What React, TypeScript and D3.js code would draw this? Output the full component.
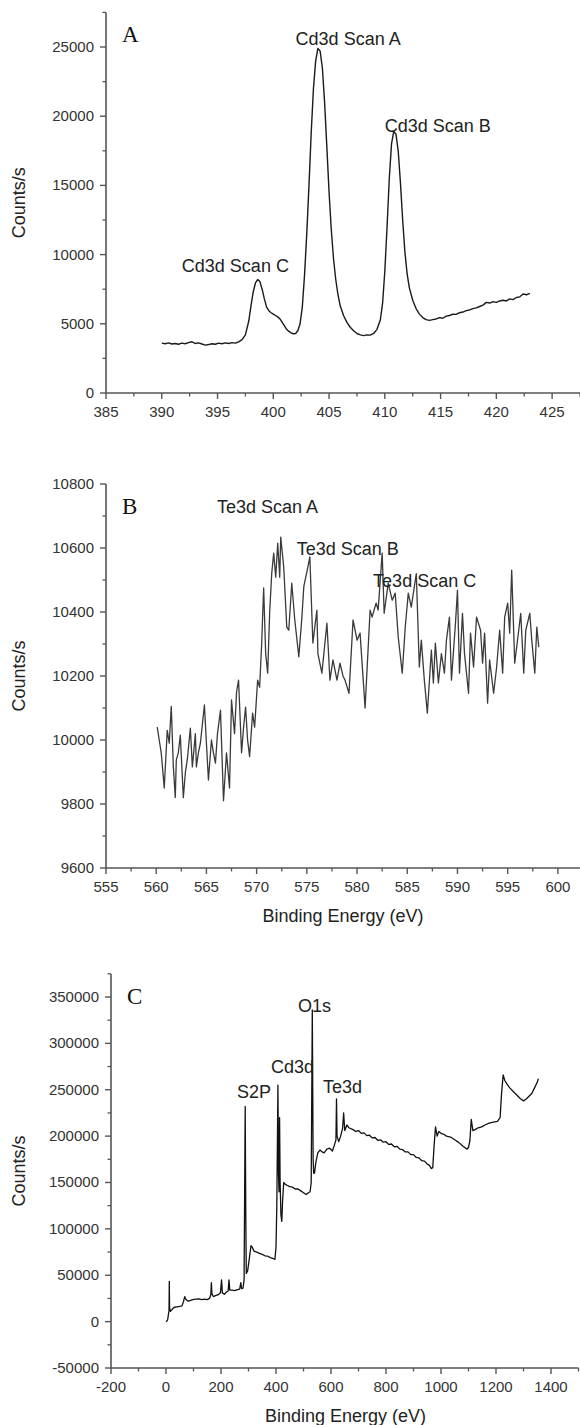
import React from "react";
import * as d3 from "d3";

// ---------- Panel A: Cd3d ----------
const cdEnergy = [
  390.0, 390.3, 390.6, 390.9, 391.2, 391.5, 391.8, 392.1, 392.4, 392.7, 393.0, 393.3, 393.6, 393.9, 394.2, 394.5, 394.8,
  395.1, 395.4, 395.7, 396.0, 396.3, 396.6, 396.9, 397.2, 397.5, 397.8, 398.0, 398.2, 398.4, 398.6, 398.8, 399.0, 399.2,
  399.4, 399.6, 399.8, 400.0, 400.2, 400.4, 400.6, 400.8, 401.0, 401.2, 401.4, 401.6, 401.8, 402.0, 402.2, 402.4, 402.6,
  402.8, 403.0, 403.2, 403.4, 403.6, 403.8, 404.0, 404.2, 404.4, 404.6, 404.8, 405.0, 405.2, 405.4, 405.6, 405.8, 406.0,
  406.3, 406.6, 406.9, 407.2, 407.5, 407.8, 408.1, 408.4, 408.7, 409.0, 409.3, 409.6, 409.8, 410.0, 410.2, 410.4, 410.6,
  410.8, 411.0, 411.2, 411.4, 411.6, 411.8, 412.0, 412.2, 412.5, 412.8, 413.1, 413.4, 413.7, 414.0, 414.3, 414.6, 414.9,
  415.2, 415.5, 415.8, 416.1, 416.4, 416.7, 417.0, 417.3, 417.6, 417.9, 418.2, 418.5, 418.8, 419.1, 419.4, 419.7, 420.0,
  420.3, 420.6, 420.9, 421.2, 421.5, 421.8, 422.1, 422.4, 422.7, 423.0,
];
const cdCounts = [
  3600, 3560, 3620, 3540, 3580, 3520, 3600, 3560, 3640, 3700, 3580, 3620, 3540, 3460, 3500, 3560, 3520,
  3600, 3560, 3620, 3580, 3640, 3600, 3700, 3850, 4200, 5200, 6300, 7300, 7950, 8200, 8050, 7500, 6800,
  6200, 5950, 5800, 5700, 5600, 5500, 5350, 5100, 4850, 4600, 4450, 4350, 4280, 4300, 4500, 5000, 6200,
  8500, 11500, 15000, 18800, 22000, 24000, 24900, 24700, 23500, 21000, 17800, 14500, 11800, 9700, 8200, 7100, 6300,
  5600, 5100, 4750, 4500, 4300, 4200, 4150, 4200, 4180, 4300, 4600, 5300, 6500, 8800, 12000, 15500, 18000,
  18900, 18700, 17500, 15200, 12500, 10200, 8600, 7600, 6700, 6100, 5700, 5450, 5300, 5250, 5300, 5350, 5450,
  5400, 5550, 5600, 5700, 5680, 5800, 5850, 5950, 6000, 6100, 6150, 6250, 6350, 6550, 6500, 6600, 6550,
  6650, 6700, 6650, 6800, 6750, 6900, 6950, 7150, 7100, 7200,
];
const cdXTicks = [385, 390, 395, 400, 405, 410, 415, 420, 425];
const cdYTicks = [0, 5000, 10000, 15000, 20000, 25000];
const cdLabels = ["Cd3d Scan A", "Cd3d Scan B", "Cd3d Scan C"];
const cdLabelX = [402.0, 410.0, 391.8];
const cdLabelY = [25150, 18860, 8740];

// ---------- Panel B: Te3d ----------
const teEnergy = [
  560.1, 560.3, 560.5, 560.8, 561.1, 561.3, 561.5, 561.7, 561.9, 562.0, 562.2, 562.4, 562.7, 562.9, 563.1, 563.4, 563.6,
  563.9, 564.0, 564.2, 564.4, 564.8, 565.0, 565.2, 565.5, 565.7, 565.9, 566.1, 566.4, 566.7, 567.0, 567.3, 567.5, 567.8,
  568.0, 568.2, 568.5, 568.7, 568.9, 569.1, 569.3, 569.6, 569.8, 570.1, 570.3, 570.5, 570.7, 570.9, 571.1, 571.3, 571.5,
  571.7, 571.9, 572.1, 572.3, 572.4, 572.7, 573.0, 573.2, 573.5, 573.8, 574.2, 574.5, 574.7, 575.1, 575.3, 575.6, 576.0,
  576.1, 576.5, 577.0, 577.3, 577.6, 578.0, 578.3, 578.6, 578.8, 579.2, 579.6, 580.0, 580.3, 580.8, 581.3, 581.5, 581.9,
  582.1, 582.5, 582.7, 583.1, 583.5, 583.8, 584.1, 584.5, 584.8, 585.1, 585.4, 585.9, 586.2, 586.4, 586.7, 587.0, 587.4,
  587.6, 587.8, 588.1, 588.4, 588.7, 588.9, 589.2, 589.4, 589.8, 590.0, 590.2, 590.5, 590.7, 591.1, 591.3, 591.6, 591.9,
  592.3, 592.5, 592.7, 593.0, 593.2, 593.6, 593.9, 594.2, 594.5, 594.7, 595.0, 595.2, 595.4, 595.7, 596.1, 596.3, 596.6,
  596.8, 597.2, 597.4, 597.7, 597.9, 598.1,
];
const teCounts = [
  10040, 10000, 9960, 9850, 10030, 9990, 10105, 9920, 9820, 9937, 9960, 10015, 9820, 9897, 9940, 10037, 9916,
  10020, 9916, 9960, 9990, 10110, 9990, 9875, 10000, 9960, 9928, 10020, 10093, 9810, 9960, 9850, 10125, 10020,
  10150, 10187, 9960, 10040, 10103, 10000, 9948, 10084, 10040, 10187, 10165, 10300, 10475, 10270, 10209, 10400, 10520,
  10584, 10509, 10615, 10509, 10634, 10540, 10353, 10343, 10490, 10375, 10260, 10380, 10480, 10540, 10572, 10303, 10406,
  10270, 10209, 10365, 10187, 10250, 10187, 10240, 10200, 10187, 10146, 10375, 10312, 10334, 10100, 10406, 10384, 10428,
  10406, 10584, 10396, 10490, 10437, 10459, 10322, 10209, 10353, 10459, 10415, 10520, 10228, 10312, 10187, 10084, 10281,
  10178, 10303, 10178, 10270, 10209, 10312, 10384, 10187, 10365, 10468, 10209, 10396, 10270, 10146, 10334, 10228, 10384,
  10343, 10240, 10334, 10115, 10250, 10146, 10228, 10343, 10209, 10384, 10428, 10334, 10531, 10240, 10343, 10396, 10209,
  10343, 10396, 10312, 10209, 10353, 10290,
];
const teXTicks = [555, 560, 565, 570, 575, 580, 585, 590, 595, 600];
const teYTicks = [9600, 9800, 10000, 10200, 10400, 10600, 10800];
const teLabels = ["Te3d Scan A", "Te3d Scan B", "Te3d Scan C"];
const teLabelX = [566.05, 574.0, 581.6];
const teLabelY = [10709, 10578, 10478];

// ---------- Panel C: survey ----------
const svEnergy = [
  0, 3, 6, 9, 11, 12, 13, 16, 22, 30, 40, 50, 58, 64, 68, 72, 80, 90, 100, 110, 120, 130, 140, 150, 158, 163, 165, 167,
  172, 180, 190, 198, 202, 205, 212, 220, 226, 229, 232, 240, 250, 260, 268, 272, 275, 280, 284, 288, 290, 292, 297, 303,
  309, 314, 320, 330, 340, 350, 360, 370, 380, 390, 396, 400, 403, 407, 409, 411, 413, 415, 418, 421, 424, 428, 434, 440,
  450, 460, 470, 480, 490, 500, 510, 518, 524, 528, 532, 535, 537, 540, 545, 552, 560, 568, 575, 585, 595, 605, 612, 618,
  620, 622, 628, 635, 642, 646, 650, 658, 665, 680, 690, 700, 710, 720, 730, 740, 750, 760, 770, 780, 790, 800, 810, 820,
  830, 840, 850, 860, 870, 880, 890, 900, 910, 920, 930, 940, 950, 958,
  965, 970, 975, 980, 986, 992, 1000, 1010, 1020, 1035, 1050, 1065, 1080, 1095, 1100, 1105, 1110, 1116, 1124, 1135, 1148,
  1160, 1175, 1190, 1205, 1215, 1220, 1226, 1232, 1240, 1250, 1260, 1270, 1280, 1290, 1300, 1310, 1320, 1330, 1340, 1350,
  1354,
];
const svCounts = [
  0, 500, 2000, 8000, 12000, 43500, 15000, 11000, 13000, 15500, 16000, 16500, 17000, 22000, 27000, 24000, 22000, 23000,
  24000, 24300, 24500, 23800, 24200, 23700, 25000, 29000, 42000, 30000, 27000, 28000, 29000, 31000, 45000, 31000, 29500,
  32000, 33000, 45000, 34000, 34000, 33500, 34500, 35000, 42000, 35500, 36000, 45000, 232000, 120000, 52000, 55000, 68000,
  82000, 80000, 76000, 75000, 73500, 72500, 71000, 70500, 69000, 68000, 67000, 80000, 125000, 255000, 160000, 140000,
  220000, 150000, 115000, 108000, 130000, 150000, 148000, 147000, 145500, 145000, 143000, 143000, 141000, 139000, 137000,
  139000, 140000, 150000, 336000, 175000, 160000, 160000, 172000, 182000, 185000, 183000, 182000, 186000, 187000, 184000,
  190000, 196000, 240000, 200000, 194000, 200000, 208000, 225000, 206000, 212000, 209000, 207000, 205000, 206000, 203000,
  203500, 200500, 201000, 198000, 198500, 195500, 196000, 193500, 194000, 191000, 191500, 188500, 189000, 186000, 185500,
  183000, 183000, 180000, 180000, 177000, 176500, 173500, 173000, 170000, 168500,
  165000, 166000, 190000, 210000,
  200000, 205000, 203000, 202000, 200000, 199000, 196000, 193000, 189000, 186000, 188000, 195000, 218000, 206000, 207000,
  209000, 210000, 212000, 214000, 215000, 216000, 220000, 245000, 266000, 260000, 256000, 252000, 249000, 246000, 243000,
  240000, 238000, 240000, 243000, 246000, 252000, 258000, 262000,
];
const svXTicks = [-200, 0, 200, 400, 600, 800, 1000, 1200, 1400];
const svYTicks = [-50000, 0, 50000, 100000, 150000, 200000, 250000, 300000, 350000];
const svLabels = ["S2P", "Cd3d", "O1s", "Te3d"];
const svLabelX = [258, 382, 480, 571];
const svLabelY = [241500, 268500, 334200, 246900];

const SANS = "'Liberation Sans', Arial, Helvetica, sans-serif";
const SERIF = "'Liberation Serif', 'Times New Roman', serif";

type PanelProps = {
  letter: string;
  xs: number[];
  ys: number[];
  xDomain: [number, number];
  xRange: [number, number];
  yDomain: [number, number];
  yRange: [number, number];
  xTicks: number[];
  yTicks: number[];
  xMinorStep: number;
  yMinorStep: number;
  labels: string[];
  labelX: number[];
  labelY: number[];
  xTitle?: boolean;
  lineColor: string;
  lineWidth: number;
};

function Panel(p: PanelProps) {
  const x = d3.scaleLinear().domain(p.xDomain).range(p.xRange);
  const y = d3.scaleLinear().domain(p.yDomain).range(p.yRange);
  const line = d3
    .line<number>()
    .x((_, i) => x(p.xs[i]))
    .y((d) => y(d));
  const x0 = p.xRange[0];
  const y0 = p.yRange[0];
  const yTop = p.yRange[1];
  const xMinor = d3
    .range(p.xDomain[0], p.xDomain[1] + 1e-9, p.xMinorStep)
    .filter((v) => !p.xTicks.some((t) => Math.abs(t - v) < 1e-6));
  const yMinor = d3
    .range(p.yDomain[0], p.yDomain[1] + 1e-9, p.yMinorStep)
    .filter((v) => !p.yTicks.some((t) => Math.abs(t - v) < 1e-6));
  const axisColor = "#555";
  const tickText = "#333";
  const midY = (y0 + yTop) / 2;
  return (
    <g>
      <path d={line(p.ys) || ""} fill="none" stroke={p.lineColor} strokeWidth={p.lineWidth} strokeLinejoin="round" />
      <line x1={x0} x2={p.xRange[1]} y1={y0} y2={y0} stroke={axisColor} strokeWidth={1.6} />
      <line x1={x0} x2={x0} y1={y0} y2={yTop} stroke={axisColor} strokeWidth={1.6} />
      {p.xTicks.map((t) => (
        <g key={"xt" + t}>
          <line x1={x(t)} x2={x(t)} y1={y0} y2={y0 + 6} stroke={axisColor} strokeWidth={1.4} />
          <text x={x(t)} y={y0 + 24} textAnchor="middle" fontFamily={SANS} fontSize={15} fill={tickText}>
            {String(t)}
          </text>
        </g>
      ))}
      {xMinor.map((t) => (
        <line key={"xm" + t} x1={x(t)} x2={x(t)} y1={y0} y2={y0 + 3.5} stroke={axisColor} strokeWidth={1.3} />
      ))}
      {p.yTicks.map((t) => (
        <g key={"yt" + t}>
          <line x1={x0 - 6} x2={x0} y1={y(t)} y2={y(t)} stroke={axisColor} strokeWidth={1.4} />
          <text x={x0 - 12} y={y(t) + 5} textAnchor="end" fontFamily={SANS} fontSize={15} fill={tickText}>
            {String(t)}
          </text>
        </g>
      ))}
      {yMinor.map((t) => (
        <line key={"ym" + t} x1={x0 - 3.5} x2={x0} y1={y(t)} y2={y(t)} stroke={axisColor} strokeWidth={1.3} />
      ))}
      <text
        transform={`translate(25,${midY}) rotate(-90)`}
        textAnchor="middle"
        fontFamily={SANS}
        fontSize={18}
        fill="#222"
      >
        Counts/s
      </text>
      {p.xTitle && (
        <text x={(x0 + 580) / 2} y={y0 + 54} textAnchor="middle" fontFamily={SANS} fontSize={18} fill="#222">
          Binding Energy (eV)
        </text>
      )}
      <text x={x0 + 16} y={yTop + 30} fontFamily={SERIF} fontSize={23} fill="#111">
        {p.letter}
      </text>
      {p.labels.map((l, i) => (
        <text key={l} x={x(p.labelX[i])} y={y(p.labelY[i])} fontFamily={SANS} fontSize={18} fill="#222">
          {l}
        </text>
      ))}
    </g>
  );
}

export default function App() {
  return (
    <svg
      width={580}
      height={1425}
      viewBox="0 0 580 1425"
      style={{ position: "absolute", left: 0, top: 0, background: "#fff" }}
    >
      <rect x={0} y={0} width={580} height={1425} fill="#fff" />
      <Panel
        letter="A"
        xs={cdEnergy}
        ys={cdCounts}
        xDomain={[385, 427.5]}
        xRange={[106, 580]}
        yDomain={[0, 27500]}
        yRange={[393, 12.4]}
        xTicks={cdXTicks}
        yTicks={cdYTicks}
        xMinorStep={2.5}
        yMinorStep={2500}
        labels={cdLabels}
        labelX={cdLabelX}
        labelY={cdLabelY}
        lineColor="#1a1a1a"
        lineWidth={1.4}
      />
      <Panel
        letter="B"
        xs={teEnergy}
        ys={teCounts}
        xDomain={[555, 602.5]}
        xRange={[106, 583]}
        yDomain={[9600, 10800]}
        yRange={[868, 484]}
        xTicks={teXTicks}
        yTicks={teYTicks}
        xMinorStep={2.5}
        yMinorStep={100}
        labels={teLabels}
        labelX={teLabelX}
        labelY={teLabelY}
        xTitle
        lineColor="#3a3a3a"
        lineWidth={1.3}
      />
      <Panel
        letter="C"
        xs={svEnergy}
        ys={svCounts}
        xDomain={[-200, 1500]}
        xRange={[111, 578.5]}
        yDomain={[-50000, 375000]}
        yRange={[1368, 973.8]}
        xTicks={svXTicks}
        yTicks={svYTicks}
        xMinorStep={100}
        yMinorStep={25000}
        labels={svLabels}
        labelX={svLabelX}
        labelY={svLabelY}
        xTitle
        lineColor="#111"
        lineWidth={1.3}
      />
    </svg>
  );
}
